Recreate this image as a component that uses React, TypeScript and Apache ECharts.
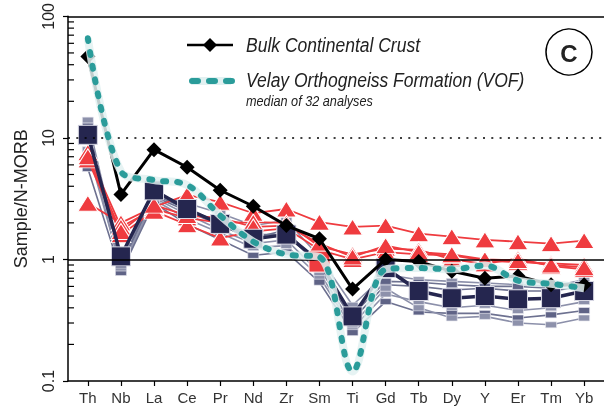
import React, { useEffect, useRef } from "react";
import * as echarts from "echarts";

const categories = ["Th", "Nb", "La", "Ce", "Pr", "Nd", "Zr", "Sm", "Ti", "Gd", "Tb", "Dy", "Y", "Er", "Tm", "Yb"];
const yTickLabels = ["0.1", "1", "10", "100"];
const minorTickValues = [0.2, 0.3, 0.4, 0.5, 0.6, 0.7, 0.8, 0.9, 2, 3, 4, 5, 6, 7, 8, 9, 20, 30, 40, 50, 60, 70, 80, 90];

const bulkContinentalCrust = [46.7, 3.43, 8.0, 5.73, 3.71, 2.74, 1.9, 1.48, 0.57, 1.0, 0.96, 0.8, 0.7, 0.73, 0.62, 0.62];
const vofMedian = [66, 5.3, 4.5, 4.1, 2.3, 1.4, 1.1, 1.05, 0.12, 0.83, 0.85, 0.83, 0.89, 0.67, 0.63, 0.58];
const navyMedian = [10.6, 1.06, 3.7, 2.6, 1.96, 1.48, 1.6, 0.96, 0.34, 0.85, 0.55, 0.48, 0.5, 0.47, 0.48, 0.55];

const red1 = [2.9, 2.0, 2.7, 3.4, 2.96, 2.4, 2.6, 2.03, 1.85, 1.9, 1.63, 1.54, 1.45, 1.4, 1.35, 1.43];
const red2 = [7.6, 1.85, 2.6, 2.2, 2.0, 2.03, 2.0, 1.28, 1.1, 1.23, 1.2, 1.0, 0.92, 1.02, 0.88, 0.83];
const red3 = [6.6, 1.6, 2.5, 1.93, 1.5, 1.7, 1.8, 1.2, 1.0, 1.15, 1.1, 1.08, 0.98, 0.95, 0.93, 0.9];
const red4 = [7.0, 1.7, 2.8, 2.3, 2.2, 1.85, 1.9, 1.35, 1.05, 1.3, 1.15, 1.1, 1.0, 0.98, 0.9, 0.86];

const grey1 = [14, 0.95, 3.4, 2.9, 2.4, 1.9, 2.1, 1.05, 0.42, 0.75, 0.68, 0.66, 0.64, 0.62, 0.6, 0.68];
const grey2 = [12.5, 0.88, 3.3, 2.5, 1.9, 1.5, 1.75, 0.85, 0.32, 0.62, 0.6, 0.56, 0.58, 0.55, 0.55, 0.6];
const grey3 = [9.5, 0.8, 3.1, 2.15, 1.65, 1.25, 1.3, 0.72, 0.27, 0.52, 0.45, 0.4, 0.42, 0.38, 0.4, 0.45];
const grey4 = [5.6, 0.78, 2.9, 1.95, 1.45, 1.08, 1.15, 0.65, 0.25, 0.45, 0.37, 0.36, 0.36, 0.33, 0.35, 0.38];
const grey5 = [8, 0.85, 3.2, 2.35, 1.75, 1.35, 1.45, 0.78, 0.29, 0.58, 0.4, 0.33, 0.34, 0.3, 0.29, 0.33];
const grey6 = [11, 0.9, 3.4, 2.6, 2.0, 1.6, 1.6, 0.9, 0.35, 0.66, 0.65, 0.62, 0.6, 0.6, 0.58, 0.64];

const redSeries = [red1, red2, red3, red4];
const greySeries = [grey1, grey2, grey3, grey4, grey5, grey6];

const RED = "#ef3b3f";
const NAVY = "#25264f";
const TEAL = "#2a9c9a";
const HALO = "#e2f1f1";
const FONT = "'Liberation Sans', Arial, Helvetica, sans-serif";

const pairs = (vals: number[]) => vals.map((v, i) => [i, v]);

export default function App() {
  const ref = useRef<HTMLDivElement>(null);
  useEffect(() => {
    if (!ref.current) return;
    const chart = echarts.init(ref.current, null, { renderer: "svg" });
    const idx = categories.map((_, i) => i);

    const series: any[] = [];
    greySeries.forEach((g, k) => {
      series.push({
        type: "line",
        z: 2,
        data: pairs(g),
        symbol: "rect",
        symbolSize: [11, 6],
        lineStyle: { color: k % 2 ? "#6d7190" : "#8c90aa", width: 1.6 },
        itemStyle: { color: k % 2 ? "#5f6386" : "#8d91ab", borderColor: "#e8e8f0", borderWidth: 0.6 },
        markLine:
          k === 0
            ? {
                silent: true,
                symbol: "none",
                label: { show: false },
                data: [
                  { yAxis: 1, lineStyle: { type: "solid", color: "#000", width: 1.5 } },
                  { yAxis: 10, lineStyle: { type: [2, 6.3], color: "#000", width: 1.5 } },
                ],
              }
            : undefined,
      });
    });
    redSeries.forEach((r) => {
      series.push({
        type: "line",
        z: 3,
        data: pairs(r),
        symbol: "triangle",
        symbolSize: [20, 16],
        lineStyle: { color: RED, width: 1.8 },
        itemStyle: { color: RED, borderColor: "#fff", borderWidth: 1 },
      });
    });
    series.push({
      type: "line",
      z: 4,
      data: navyMedian.map((v, i) =>
        i === 7
          ? { value: [i, v], itemStyle: { color: RED, borderColor: "#fff" }, symbolSize: 21 }
          : { value: [i, v] }
      ),
      symbol: "rect",
      symbolSize: 19,
      lineStyle: { color: NAVY, width: 3.5 },
      itemStyle: { color: NAVY, borderColor: "#d8d8e4", borderWidth: 1 },
    });
    series.push({
      type: "line",
      z: 5,
      data: pairs(bulkContinentalCrust),
      symbol: "diamond",
      symbolSize: 15,
      lineStyle: { color: "#000", width: 3 },
      itemStyle: { color: "#000" },
    });
    series.push({
      type: "line",
      z: 6,
      data: pairs(vofMedian),
      smooth: 0.35,
      symbol: "none",
      lineStyle: { color: HALO, width: 8, opacity: 0.85 },
    });
    series.push({
      type: "line",
      z: 7,
      data: pairs(vofMedian),
      smooth: 0.35,
      symbol: "none",
      lineStyle: { color: TEAL, width: 6, type: [3, 11], cap: "round" },
    });
    series.push({
      type: "custom",
      z: 10,
      silent: true,
      clip: false,
      data: minorTickValues.map((v) => [-0.6, v]),
      renderItem: (params: any, api: any) => {
        const p = api.coord([api.value(0), api.value(1)]);
        return {
          type: "line",
          shape: { x1: p[0], y1: p[1], x2: p[0] + 6, y2: p[1] },
          style: { stroke: "#000", lineWidth: 1.2 },
        };
      },
    });

    chart.setOption({
      animation: false,
      grid: { left: 68, top: 12, width: 539, height: 369 },
      xAxis: [
        {
          type: "value",
          min: -0.6,
          max: 15.6,
          splitLine: { show: false },
          axisLine: { onZero: false, lineStyle: { color: "#000", width: 1.5 } },
          axisTick: { customValues: idx, length: 5, lineStyle: { color: "#000", width: 1.2 } },
          axisLabel: {
            customValues: idx,
            formatter: (v: number) => categories[Math.round(v)] ?? "",
            color: "#333",
            fontSize: 15,
            fontFamily: FONT,
            margin: 9,
          },
        },
        {
          type: "value",
          position: "top",
          min: -0.6,
          max: 15.6,
          splitLine: { show: false },
          axisLine: { show: true, onZero: false, lineStyle: { color: "#000", width: 1.5 } },
          axisTick: { show: false },
          axisLabel: { show: false },
        },
      ],
      yAxis: {
        type: "log",
        min: 0.1,
        max: 100,
        logBase: 10,
        splitLine: { show: false },
        axisLine: { show: true, onZero: false, lineStyle: { color: "#000", width: 1.5 } },
        axisTick: { length: 5, lineStyle: { color: "#000", width: 1.2 } },
        axisLabel: {
          rotate: 90,
          margin: 12,
          color: "#222",
          fontSize: 16,
          fontFamily: FONT,
          formatter: (v: number) => {
            const s = String(Math.round(v * 10) / 10);
            return yTickLabels.includes(s) ? s : "";
          },
        },
        name: "Sample/N-MORB",
        nameLocation: "middle",
        nameGap: 38,
        nameTextStyle: { fontSize: 18, color: "#222", fontFamily: FONT },
      },
      graphic: [
        { type: "line", shape: { x1: 187, y1: 45, x2: 233, y2: 45 }, style: { stroke: "#000", lineWidth: 2.5 } },
        { type: "polygon", shape: { points: [[210, 38], [217, 45], [210, 52], [203, 45]] }, style: { fill: "#000" } },
        {
          type: "text",
          x: 246,
          y: 45,
          scaleX: 0.875,
          style: { text: "Bulk Continental Crust", font: `italic 20px ${FONT}`, fill: "#222", verticalAlign: "middle" },
        },
        { type: "line", shape: { x1: 191, y1: 81, x2: 231, y2: 81 }, style: { stroke: HALO, lineWidth: 8 } },
        {
          type: "line",
          shape: { x1: 192, y1: 81, x2: 232, y2: 81 },
          style: { stroke: TEAL, lineWidth: 6, lineDash: [6, 11], lineCap: "round" },
        },
        {
          type: "text",
          x: 246,
          y: 80,
          scaleX: 0.875,
          style: { text: "Velay Orthogneiss Formation (VOF)", font: `italic 20px ${FONT}`, fill: "#222", verticalAlign: "middle" },
        },
        {
          type: "text",
          x: 246,
          y: 101,
          scaleX: 0.875,
          style: { text: "median of 32 analyses", font: `italic 14.5px ${FONT}`, fill: "#222", verticalAlign: "middle" },
        },
        { type: "circle", shape: { cx: 569, cy: 52, r: 23 }, style: { fill: "none", stroke: "#000", lineWidth: 1.5 } },
        {
          type: "text",
          x: 569,
          y: 53,
          style: { text: "C", font: `bold 24px ${FONT}`, fill: "#222", align: "center", verticalAlign: "middle" },
        },
      ],
      series,
    });
    return () => chart.dispose();
  }, []);
  return <div ref={ref} style={{ width: 604, height: 412, position: "fixed", left: 0, top: 0 }} />;
}
